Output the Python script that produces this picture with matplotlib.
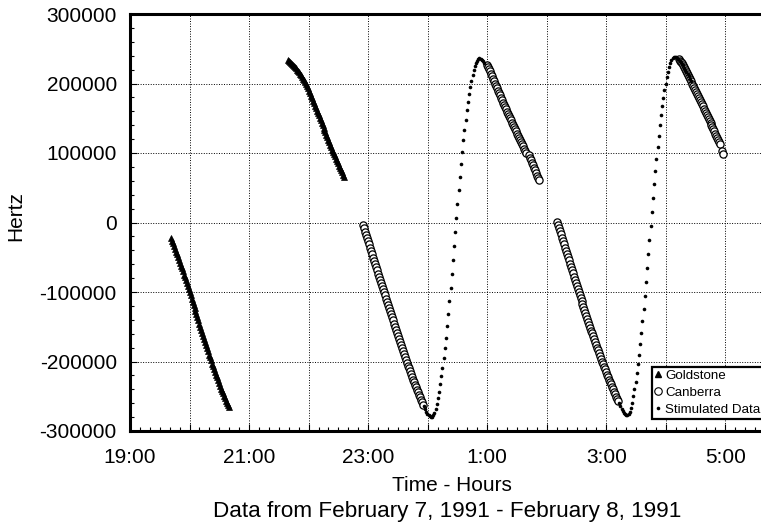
import numpy as np
import matplotlib
matplotlib.use("Agg")
import matplotlib.pyplot as plt
from matplotlib.lines import Line2D
from matplotlib.ticker import MultipleLocator, FixedLocator, FuncFormatter

plt.rcParams['font.family'] = ['Liberation Sans', 'DejaVu Sans']

# ---- Doppler data (kHz); start times in minutes after 19:00 ----
# Goldstone passes, one sample per minute
goldstone_1_start = 41
goldstone_1_khz = [-22, -26, -30, -34, -38, -42, -46, -50, -54, -58,
                   -62, -66, -70.5, -75, -79, -83, -87.5, -92, -96, -100.5,
                   -105, -109.5, -114, -118.5, -123, -127.5, -132, -136.5, -141, -145.5,
                   -150, -154.5, -159, -163.5, -168, -172, -176.5, -181, -185.5, -190,
                   -194, -198.5, -203, -207, -211, -215, -219, -223, -227, -231,
                   -235, -239, -242.5, -246, -249.5, -253, -256.5, -260, -263, -266]
goldstone_2_start = 159
goldstone_2_khz = [234, 232.5, 231, 229.5, 228, 226.5, 225, 223.5, 222, 220,
                   218, 216, 214, 212, 209.5, 207, 204.5, 202, 199.5, 196.5,
                   193, 189.5, 186, 182.5, 179, 175.5, 172, 168, 164.5, 161,
                   157.5, 154, 150.5, 147, 143.5, 140, 136.5, 133, 129.5, 126,
                   122.5, 119, 115.5, 112, 108.5, 105, 101.5, 98, 95, 92,
                   88.5, 85.5, 82, 79, 75.5, 72, 68.5, 65]

# Canberra passes, one sample per minute
canberra_1_start = 235
canberra_1_khz = [-4, -8.5, -13, -18, -22.5, -27, -31.5, -36.5, -41, -45.5,
                  -50.5, -55, -59.5, -64, -69, -73.5, -78, -82.5, -87, -91.5,
                  -96, -100.5, -105, -109.5, -114, -118.5, -123, -127.5, -132, -136.5,
                  -141, -145.5, -150, -154.5, -159, -163.5, -168, -172, -176.5, -181,
                  -185, -189.5, -194, -198, -202, -206, -210, -214, -218, -222,
                  -226, -229.5, -233.5, -237, -241, -244.5, -248, -251.5, -255, -258.5,
                  -262]
canberra_2a_start = 360
canberra_2a_khz = [227, 224, 221, 217.5, 214, 210.5, 207, 203.5, 200, 196.5,
                   193, 189.5, 186, 183, 179.5, 176, 172.5, 169.5, 166, 163,
                   159.5, 156.5, 153, 150, 147, 143.5, 140.5, 137.5, 134, 131,
                   128, 124.5, 121.5, 118.5, 115.5, 112.5, 109.5, 106, 103, 100.5]
canberra_2b_start = 402
canberra_2b_khz = [97, 93.5, 90, 86, 82.5, 78.5, 75, 71, 67.5, 64, 61]
canberra_3_start = 430
canberra_3_khz = [1, -3.5, -8, -12.5, -17, -22, -26.5, -31, -36, -40.5,
                  -45, -50, -54.5, -59, -64, -68.5, -73, -78, -82.5, -87,
                  -91.5, -96, -100.5, -105, -109, -113.5, -117.5, -122, -126, -130.5,
                  -134.5, -139, -143, -147.5, -151.5, -155.5, -159.5, -164, -168, -172,
                  -176, -180, -184, -188, -192, -196, -200, -204, -207.5, -211.5,
                  -215, -219, -222.5, -226, -229.5, -233, -236.5, -240, -243.5, -247,
                  -250.5, -254, -257.5]
canberra_4a_start = 553
canberra_4a_khz = [235, 233, 231, 229, 226.5, 224, 221, 218, 215, 212,
                   209, 206, 203, 200, 197, 194, 191, 188, 185, 182,
                   179, 176, 173, 170, 167, 164, 161, 158, 155, 152,
                   149, 146, 143, 140, 137, 134, 131, 128, 125, 122,
                   119, 116, 113]
canberra_4b_start = 597
canberra_4b_khz = [103, 99]

# Simulated Doppler, one sample every 70 s
sim_step = 70 / 60
sim_1_start = 296.2
sim_1_khz = [-264.5, -268.5, -272, -275, -277, -278.5, -279.3, -279.4,
             -277, -273.5, -268.5, -261.5, -253, -243.5, -233, -221.5, -209, -195.5,
             -181, -165.5, -149, -131.5, -113, -94, -74.5, -54.5, -34, -13.5,
             7, 27, 46.5, 65.5, 84, 101.5, 118, 133.5, 148, 161.5,
             174, 185, 195, 204, 212, 219, 224.5, 229, 232.5, 235, 236,
             235.5, 234, 232, 229.5]
sim_2_start = 493.1
sim_2_khz = [-260, -264.5, -268.5, -271.5, -274, -275.5, -276.5, -277,
             -275.5, -272, -266.5, -259, -250, -240, -229, -217, -204, -190,
             -175, -159, -142, -124, -105.5, -86, -66, -46, -25.5, -5,
             15.5, 35.5, 55, 74, 92, 109, 125, 140, 154, 167,
             179, 190, 200, 209, 217, 224, 229.5, 233.5, 236, 237.5, 238,
             237.5, 236.5, 235, 233, 231, 228.5, 226, 223, 220, 217, 214, 210.5, 207, 203.5]

legend_labels = ["Goldstone", "Canberra", "Stimulated Data"]
x_tick_hours = [19, 21, 23, 25, 27, 29]
y_ticks = [-300000, -200000, -100000, 0, 100000, 200000, 300000]


def series(start_min, khz, step=1.0):
    hours = 19 + (start_min + step * np.arange(len(khz))) / 60.0
    return hours, np.asarray(khz, dtype=float) * 1000.0


fig = plt.figure(figsize=(7.61, 5.28), dpi=100)
ax = fig.add_axes([130 / 761, 97 / 528, 646 / 761, 417 / 528])

tri = dict(ls='none', marker='^', ms=5.0, color='black', mec='black', mew=0.5, zorder=3)
circ = dict(ls='none', marker='o', ms=5.2, mfc='white', mec='black', mew=0.9, zorder=3)
dot = dict(ls='none', marker='o', ms=2.6, color='black', mew=0, zorder=4)

for s, v in [(goldstone_1_start, goldstone_1_khz), (goldstone_2_start, goldstone_2_khz)]:
    ax.plot(*series(s, v), **tri)
for s, v in [(canberra_1_start, canberra_1_khz), (canberra_2a_start, canberra_2a_khz),
             (canberra_2b_start, canberra_2b_khz), (canberra_3_start, canberra_3_khz),
             (canberra_4a_start, canberra_4a_khz), (canberra_4b_start, canberra_4b_khz)]:
    ax.plot(*series(s, v), **circ)
for s, v in [(sim_1_start, sim_1_khz), (sim_2_start, sim_2_khz)]:
    ax.plot(*series(s, v, sim_step), **dot)

ax.set_xlim(19, 29.85)
ax.set_ylim(-300000, 300000)

ax.xaxis.set_major_locator(MultipleLocator(1))
ax.xaxis.set_minor_locator(MultipleLocator(1 / 6))
ax.xaxis.set_major_formatter(FuncFormatter(
    lambda h, p: f"{int(round(h)) % 24}:00" if int(round(h)) in x_tick_hours else ""))
ax.yaxis.set_major_locator(FixedLocator(y_ticks))
ax.yaxis.set_minor_locator(MultipleLocator(20000))
ax.yaxis.set_major_formatter(FuncFormatter(lambda v, p: f"{int(round(v))}"))

ax.tick_params(which='both', direction='in', top=False, right=False, width=0.8,
               labelsize=15)
ax.tick_params(which='major', length=5)
ax.tick_params(which='minor', length=3)
ax.tick_params(axis='y', which='major', pad=9.5)
ax.tick_params(axis='x', which='major', pad=12)

ax.grid(True, which='major', color='black', lw=0.7, ls=(0, (1, 1.6)))
ax.set_axisbelow(True)
for side in ['left', 'bottom', 'top']:
    ax.spines[side].set_linewidth(2.2)
ax.spines['right'].set_visible(False)

fig.text(16 / 761, 1 - 216 / 528, "Hertz", rotation=90, ha='center', va='center', fontsize=15)
fig.text(452 / 761, 1 - 491 / 528, "Time - Hours", ha='center', va='baseline', fontsize=15)
fig.text(447 / 761, 1 - 517 / 528, "Data from February 7, 1991 - February 8, 1991",
         ha='center', va='baseline', fontsize=16.2)

handles = [Line2D([], [], ls='none', marker='^', ms=4.2, color='black'),
           Line2D([], [], ls='none', marker='o', ms=5.4, mfc='white', mec='black', mew=0.8),
           Line2D([], [], ls='none', marker='o', ms=2.6, color='black', mew=0)]
leg = fig.legend(handles, legend_labels, loc='upper left',
                 bbox_to_anchor=(652 / 761, 1 - 367 / 528), fontsize=9.6,
                 frameon=True, fancybox=False, framealpha=1, edgecolor='black',
                 borderpad=0.2, handlelength=0.5, handletextpad=0.3,
                 labelspacing=0.35, borderaxespad=0, numpoints=1)
leg.get_frame().set_linewidth(1.6)

fig.savefig("out.png", dpi=100)
